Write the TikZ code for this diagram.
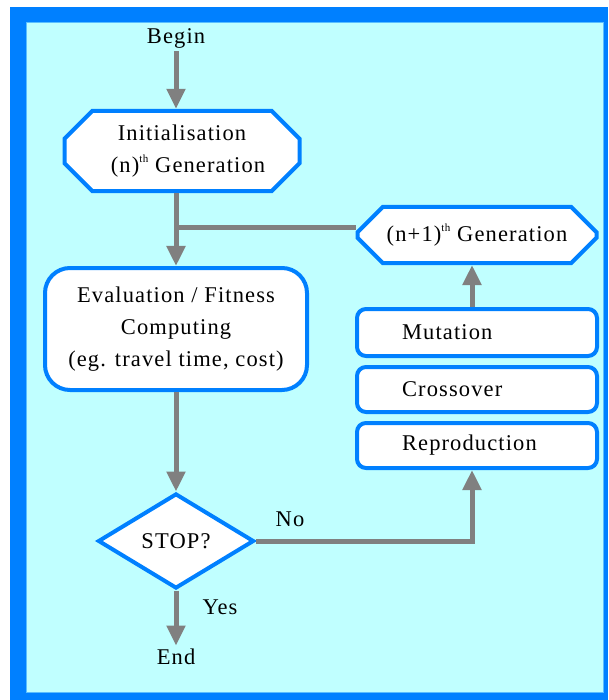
\documentclass[tikz,border=0pt]{standalone}
\usepackage{fontspec}
\setmainfont{Liberation Serif}[LetterSpace=5]
\usetikzlibrary{arrows.meta,shapes.geometric,shapes.misc}

\definecolor{frameblue}{RGB}{0,128,255}
\definecolor{paneledge}{RGB}{90,190,255}
\definecolor{panelcyan}{RGB}{192,255,255}
\definecolor{flowgray}{RGB}{128,128,128}

% small raised "th" ordinal
\newcommand\ordth{\raisebox{0.45em}{\fontsize{11}{11}\selectfont th}}

\begin{document}
\begin{tikzpicture}[x=1pt,y=-1pt,
  every node/.style={font=\fontsize{22.5}{32}\selectfont, text=black},
  box/.style={draw=frameblue, line width=4pt, fill=white, inner sep=0pt, align=center},
  octbox/.style={box, chamfered rectangle, chamfered rectangle sep=14pt},
  roundbox/.style={box, rectangle, rounded corners=25pt},
  opbox/.style={box, rectangle, rounded corners=9pt, minimum width=239pt,
                text width=150pt, inner xsep=45pt, align=left},
  decision/.style={box, diamond, minimum width=156pt, minimum height=95pt, aspect=1.64},
  flow/.style={draw=flowgray, line width=5pt},
  arr/.style={flow, -{Triangle[width=18pt,length=20pt]}}]

% frame and panel
\useasboundingbox (0,0) rectangle (608,700);
\fill[frameblue] (10,7) rectangle (608,700);
\filldraw[fill=panelcyan, draw=paneledge, line width=1pt] (26.5,22.5) rectangle (603.5,692);

% nodes
\node (begin) at (176,38) {Begin};
\node[octbox, minimum width=235pt, minimum height=77pt] (init) at (182,151)
  {Initialisation\\\hspace*{12pt}(n)\ordth{} Generation};
\coordinate (jn) at (176,228);
\node[octbox, minimum width=239pt, minimum height=56pt] (gen) at (477,235)
  {(n+1)\ordth{} Generation};
\node[roundbox, minimum width=262pt, minimum height=122pt] (eval) at (176,329)
  {Evaluation / Fitness\\Computing\\(eg. travel time, cost)};
\node[opbox, minimum height=47pt] (mut) at (477,332.5) {Mutation};
\node[opbox, minimum height=45pt] (cross) at (477,389.5) {Crossover};
\node[opbox, minimum height=45pt] (rep) at (477,445.5) {Reproduction};
\node[decision] (stop) at (176,541) {STOP?};
\node (end) at (176,657) {End};
\node (no) at (290,519) {No};
\node (yes) at (220,607) {Yes};
\coordinate (ax) at (472,0);

% connectors
\draw[arr] (begin.south -| jn) -- (init.north -| jn);
\draw[flow] (init.south -| jn) -- (jn) -- (jn -| gen.west);
\draw[arr] (jn) -- (eval.north -| jn);
\draw[arr] (eval.south -| stop) -- (stop.north);
\draw[arr] (stop.south) -- (stop.south |- end.north);
\draw[arr] (stop.east) -- (stop.east -| ax) -- (rep.south -| ax);
\draw[arr] (mut.north -| ax) -- (gen.south -| ax);
\end{tikzpicture}
\end{document}
